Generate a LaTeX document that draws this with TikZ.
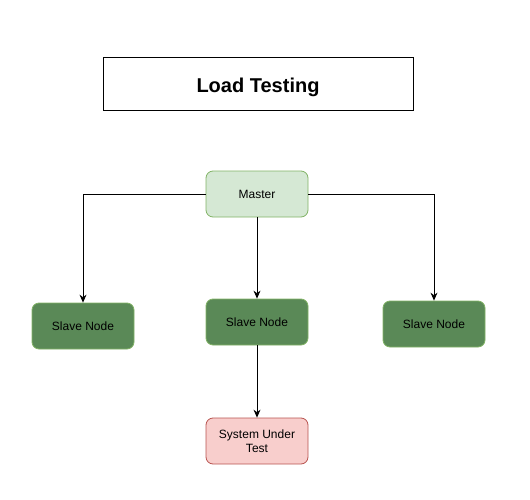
\documentclass[tikz,border=0pt]{standalone}
\usepackage{fontspec}
\setmainfont{Liberation Sans}
\usetikzlibrary{positioning,arrows.meta}

\definecolor{mastergreen}{HTML}{D5E8D4}
\definecolor{slavegreen}{RGB}{90,137,87}
\definecolor{greenline}{HTML}{82B366}
\definecolor{sutred}{HTML}{F8CECC}
\definecolor{redline}{HTML}{B85450}

\begin{document}
\begin{tikzpicture}[x=1pt,y=-1pt,
  main/.style = {draw=greenline, rounded corners=7pt, minimum width=102pt, minimum height=46pt, font=\fontsize{12}{14}\selectfont, align=center, line width=0.8pt},
  title/.style = {draw, minimum width=310pt, minimum height=53pt, text height=22pt, text depth=4pt, font=\fontsize{20}{24}\selectfont\bfseries, line width=0.8pt},
  arr/.style = {-{Stealth[length=8pt,width=7pt]}, line width=0.8pt},
  node distance={128pt}]
\useasboundingbox (0,0) rectangle (530,500);
\node[title] (0) at (258,83.5) {Load Testing};
\node[main] (1) [fill=mastergreen] at (257,194) {Master};
\node[main] (2) [below of=1, fill=slavegreen] {Slave Node};
\node[main] (3) [left of=2, node distance=174pt, yshift=-4pt, fill=slavegreen] {Slave Node};
\node[main] (4) [right of=2, node distance=177pt, yshift=-2pt, fill=slavegreen] {Slave Node};
\node[main] (5) [below of=2, node distance=119pt, draw=redline, fill=sutred] {System Under\\Test};
\draw[arr] (1.west) -| (3.north);
\draw[arr] (1.east) -| (4.north);
\draw[arr] (1) -- (2);
\draw[arr] (2) -- (5);
\end{tikzpicture}
\end{document}
